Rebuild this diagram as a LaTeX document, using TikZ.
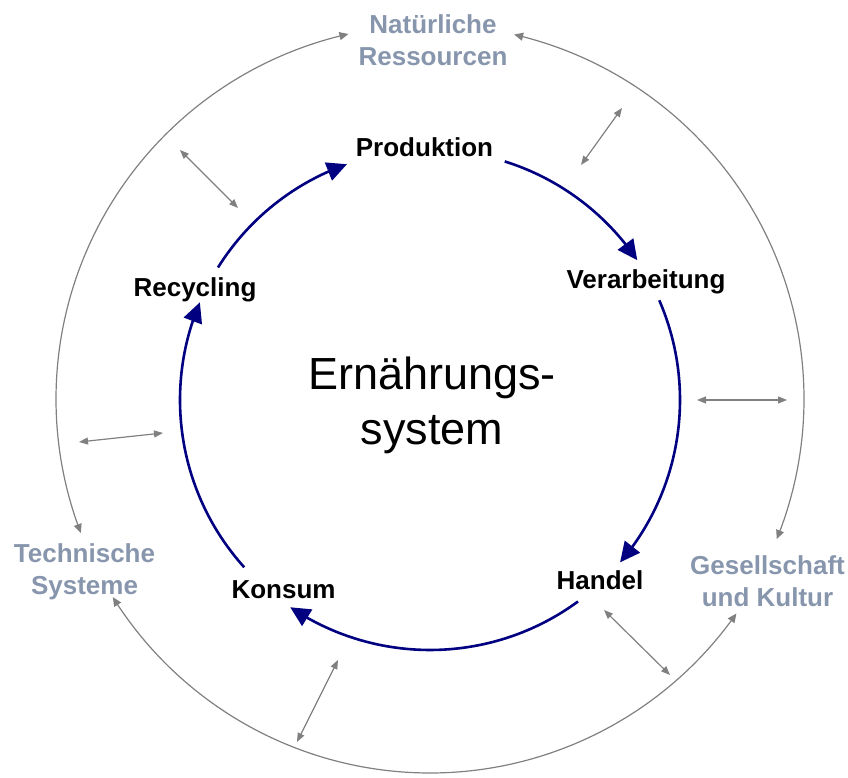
\documentclass[tikz,border=0pt]{standalone}
\usepackage{fontspec}
\setmainfont{Liberation Sans}
\usetikzlibrary{arrows.meta,bending,calc}
\definecolor{cyclenavy}{RGB}{0,0,128}
\definecolor{linkgray}{RGB}{128,128,128}
\definecolor{realmgray}{RGB}{135,150,172}
\begin{document}
\begin{tikzpicture}[x=1pt,y=1pt,
  stage/.style={font=\fontsize{26}{31}\selectfont\bfseries, inner sep=0pt},
  realm/.style={font=\fontsize{26}{32}\selectfont\bfseries, text=realmgray, align=center, inner sep=0pt},
  core/.style={font=\fontsize{45}{55}\selectfont, inner sep=0pt, anchor=base},
  flow/.style={draw=cyclenavy, line width=2.6pt, -{Triangle[length=20pt,width=19pt]}},
  ring/.style={draw=linkgray, line width=1.2pt, {Triangle[length=9pt,width=8pt]}-{Triangle[length=9pt,width=8pt]}},
  link/.style={draw=linkgray, line width=1.2pt, {Triangle[length=9pt,width=7pt]}-{Triangle[length=9pt,width=7pt]}}
]
\useasboundingbox (0,0) rectangle (848,778);

% centres of the two rings
\coordinate (C) at (430,378);
\coordinate (R) at (430,379);

% stages of the inner cycle
\node[stage] (prod) at (424.5,631) {Produktion};
\node[stage] (verarb) at (646,496) {Verarbeitung};
\node[stage] (handel) at (600,198) {Handel};
\node[stage] (konsum) at (283.5,188) {Konsum};
\node[stage] (recyc) at (195,488) {Recycling};

% surrounding realms
\node[realm] (natur) at (433,738) {Natürliche\\Ressourcen};
\node[realm] (gesell) at (767.5,197) {Gesellschaft\\und Kultur};
\node[realm] (technik) at (84.5,206) {Technische\\Systeme};

% title in the middle
\node[core] (title1) at (432,388) {Ernährungs-};
\node[core] (title2) at (432,333) {system};

% inner cycle, clockwise
\coordinate (f1) at ($(C)+(148:250)$);
\coordinate (f2) at ($(C)+(72.6:250)$);
\coordinate (f3) at ($(C)+(23.5:250)$);
\coordinate (f4) at ($(C)+(-53.7:250)$);
\coordinate (f5) at ($(C)+(222:250)$);
\draw[flow] (f1) arc[start angle=148,end angle=109.4,radius=250];
\draw[flow] (f2) arc[start angle=72.6,end angle=34,radius=250];
\draw[flow] (f3) arc[start angle=23.5,end angle=-40.5,radius=250];
\draw[flow] (f4) arc[start angle=-53.7,end angle=-124,radius=250];
\draw[flow] (f5) arc[start angle=222,end angle=157,radius=250];

% outer ring between the realms
\coordinate (o1) at ($(R)+(201:374)$);
\coordinate (o2) at ($(R)+(77:374)$);
\coordinate (o3) at ($(R)+(-35:374)$);
\draw[ring] (o1) arc[start angle=201,end angle=102.6,radius=374];
\draw[ring] (o2) arc[start angle=77,end angle=-22,radius=374];
\draw[ring] (o3) arc[start angle=-35,end angle=-148,radius=374];

% exchanges between the cycle and the outer ring
\coordinate (a1) at (581,613); \coordinate (b1) at (622,670);
\coordinate (a2) at (697,378); \coordinate (b2) at (787,378);
\coordinate (a3) at (604,168); \coordinate (b3) at (670,103);
\coordinate (a4) at (338,118); \coordinate (b4) at (297,36);
\coordinate (a5) at (163,345); \coordinate (b5) at (79,336);
\coordinate (a6) at (238,570); \coordinate (b6) at (180,628);
\foreach \i in {1,...,6} \draw[link] (a\i) -- (b\i);
\end{tikzpicture}
\end{document}
